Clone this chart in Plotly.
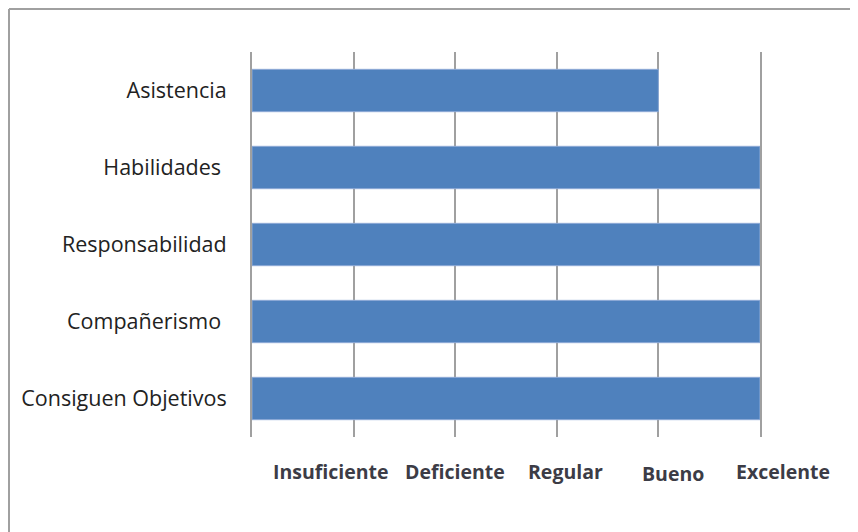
import plotly.graph_objects as go

categories = ["Asistencia", "Habilidades\u00a0", "Responsabilidad", "Compañerismo\u00a0", "Consiguen Objetivos"]
values = [4, 5, 5, 5, 5]
level_labels = ["Insuficiente", "Deficiente", "Regular", "Bueno", "Excelente"]

# page body has an 8px margin: figure coordinates are screen coordinates minus 8
OFF = 8
W, H = 858 - OFF, 532 - OFF
L, R, T, B = 252 - OFF, 760 - OFF, 52 - OFF, 437 - OFF

label_cx = [331, 455, 565, 673, 783]
label_cy = [471, 471, 471, 474, 471]


def px(x):
    return (x - OFF - L) / (R - L)


def py(y):
    return (B - (y - OFF)) / (B - T)


fig = go.Figure(go.Bar(
    y=categories, x=values, orientation="h",
    marker=dict(color="#4F81BD", line=dict(color="#8EAAD6", width=1)),
))

for lab, cx, cy in zip(level_labels, label_cx, label_cy):
    fig.add_annotation(x=px(cx), xref="paper", y=py(cy), yref="paper",
                       xanchor="center", yanchor="middle",
                       text=lab, showarrow=False,
                       font=dict(family="Open Sans", size=19.5, color="#3c3c46", weight="bold"))

fig.add_shape(type="line", xref="paper", yref="paper", x0=px(9), y0=py(540), x1=px(9), y1=py(9),
              line=dict(color="#A0A0A0", width=2))
fig.add_shape(type="line", xref="paper", yref="paper", x0=px(9), y0=py(9), x1=px(870), y1=py(9),
              line=dict(color="#A0A0A0", width=2))

fig.update_layout(
    width=W, height=H,
    margin=dict(l=L, r=W - R, t=T, b=H - B, autoexpand=False),
    paper_bgcolor="white", plot_bgcolor="white",
    bargap=0.45, showlegend=False,
    font=dict(family="Open Sans", size=21.5, color="#222222"),
)
fig.update_xaxes(range=[0, 5], dtick=1, tick0=0, showticklabels=False,
                 showgrid=True, gridcolor="#A0A0A0", gridwidth=2, zeroline=False,
                 showline=False, fixedrange=True, automargin=False)
fig.update_yaxes(autorange="reversed", showgrid=False, zeroline=False,
                 showline=True, mirror=True, linecolor="#A0A0A0", linewidth=2,
                 ticks="", ticklabelstandoff=19, fixedrange=True, automargin=False)

fig.write_html("out.html")
